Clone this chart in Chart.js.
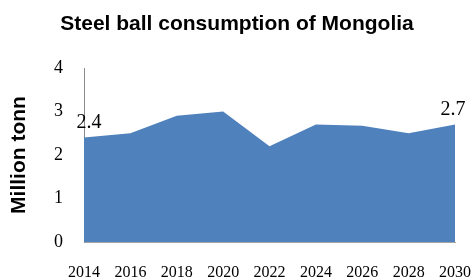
<!DOCTYPE html>
<html>
<head>
<meta charset="utf-8">
<script src="https://cdn.jsdelivr.net/npm/chart.js@4"></script>
<style>
  html, body { margin: 0; padding: 0; background: #fff; }
  #wrap { width: 471px; height: 279px; }
</style>
</head>
<body>
<div id="wrap"><canvas id="chart" width="471" height="279"></canvas></div>
<script>
const years = ['2014', '2016', '2018', '2020', '2022', '2024', '2026', '2028', '2030'];
const consumption = [2.4, 2.5, 2.9, 3.0, 2.2, 2.7, 2.67, 2.5, 2.7];
const yTicks = [0, 1, 2, 3, 4];
const labelledPoints = [0, 8];

const serif = '"Liberation Serif", "Times New Roman", serif';
const sans = '"Liberation Sans", Arial, sans-serif';

const titlePlugin = {
  id: 'topTitle',
  afterDraw(chart) {
    const ctx = chart.ctx;
    ctx.save();
    ctx.font = 'bold 21px ' + sans;
    ctx.fillStyle = '#000';
    ctx.textAlign = 'center';
    ctx.textBaseline = 'middle';
    ctx.fillText('Steel ball consumption of Mongolia', 237, 24);
    ctx.restore();
  }
};

const valueLabels = {
  id: 'valueLabels',
  afterDatasetsDraw(chart) {
    const ctx = chart.ctx;
    const meta = chart.getDatasetMeta(0);
    ctx.save();
    ctx.font = '20px ' + serif;
    ctx.fillStyle = '#000';
    ctx.textAlign = 'center';
    ctx.textBaseline = 'middle';
    for (const i of labelledPoints) {
      const p = meta.data[i];
      ctx.fillText(consumption[i].toFixed(1), p.x + (i === 0 ? 5 : -2), p.y - 15);
    }
    ctx.restore();
  }
};

new Chart(document.getElementById('chart'), {
  type: 'line',
  data: {
    labels: years,
    datasets: [{
      data: consumption,
      fill: 'origin',
      backgroundColor: '#4f81bd',
      borderWidth: 0,
      pointRadius: 0,
      tension: 0,
    }]
  },
  options: {
    responsive: false,
    animation: false,
    layout: { padding: { top: 68, right: 16, left: 0, bottom: 0 } },
    plugins: { legend: { display: false }, tooltip: { enabled: false } },
    scales: {
      x: {
        offset: false,
        grid: { display: false, drawTicks: false },
        border: { color: '#a6a6a6', width: 1 },
        ticks: { color: '#000', font: { family: serif, size: 16 }, padding: 21, maxRotation: 0, autoSkip: false },
        afterFit(scale) {
          scale.height = 37;
          scale.paddingLeft = 0;
          scale.paddingRight = 0;
        }
      },
      y: {
        min: 0,
        max: 4,
        afterBuildTicks(scale) { scale.ticks = yTicks.map(v => ({ value: v })); },
        grid: { display: false, drawTicks: false },
        border: { color: '#8c8c8c', width: 1 },
        ticks: { color: '#000', font: { family: serif, size: 18 }, padding: 21 },
        title: {
          display: true,
          text: 'Million tonn',
          color: '#000',
          font: { family: sans, size: 21, weight: 'bold' },
          padding: { top: 7, bottom: 0 }
        },
        afterFit(scale) {
          scale.width = 84;
          scale.paddingTop = 0;
          scale.paddingBottom = 0;
        }
      }
    }
  },
  plugins: [titlePlugin, valueLabels]
});
</script>
</body>
</html>
